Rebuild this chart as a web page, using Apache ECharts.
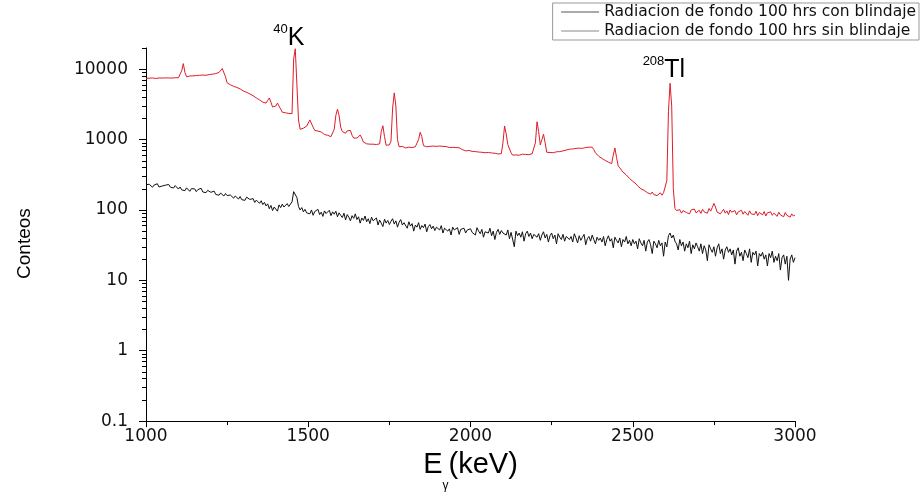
<!DOCTYPE html>
<html><head><meta charset="utf-8">
<script src="https://cdn.jsdelivr.net/npm/echarts@6/dist/echarts.min.js"></script>
<style>html,body{margin:0;padding:0;background:#fff}#c{width:921px;height:497px}</style>
</head><body><div id="c"></div>
<script>
// Energy grid: 1000..3000 keV, 5 keV step
const E_START = 1000;
const E_STEP = 5;

// Counts, shielded ("con blindaje"), one row per 100 keV
const conBlindaje = [
  228,215,232,221,210,226,218,236,212,224,219,207,225,214,230,211,220,205,222,209,
  198,212,193,204,188,206,196,184,201,190,199,182,195,187,203,180,192,176,190,183,
  178,170,185,166,176,162,174,168,158,171,160,150,163,155,147,158,149,143,155,140,
  146,137,152,160,141,133,145,128,138,131,124,135,119,128,114,122,104,116,98,110,
  112,96,118,108,121,110,115,123,112,119,130,182,192,150,112,100,108,94,102,91,
  96,88,100,84,95,90,102,86,93,81,97,89,92,99,83,94,87,96,80,91,
  84,78,90,72,86,79,70,83,76,88,73,80,65,77,71,82,68,75,64,79,
  70,66,77,61,72,68,58,74,65,71,62,69,75,63,70,57,67,73,61,66,
  62,55,68,59,64,50,61,57,66,53,60,56,63,49,58,62,54,59,51,57,
  56,52,60,47,55,58,50,54,44,57,52,49,56,45,53,50,55,47,52,49,
  54,48,51,44,56,50,46,53,41,49,52,47,55,43,50,38,48,53,45,51,
  47,50,44,52,39,48,45,30,50,43,47,41,49,36,46,50,42,47,39,45,
  48,41,46,37,44,49,40,45,35,43,47,39,44,33,46,41,38,45,36,42,
  44,38,42,35,46,40,34,43,37,41,45,32,39,42,36,44,38,33,41,37,
  40,35,42,31,38,43,36,39,29,41,37,34,40,30,38,35,42,33,37,31,
  38,33,36,28,39,34,31,37,26,35,38,32,24,36,33,29,37,31,34,22,
  35,30,43,47,40,44,36,33,27,38,31,35,26,33,29,36,24,32,28,34,
  30,26,33,24,31,27,19,32,28,25,30,22,29,33,24,28,20,27,30,25,
  28,23,27,17,26,29,22,25,19,27,24,21,28,18,25,23,26,16,24,22,
  25,20,23,16,24,21,26,18,22,19,24,14,21,23,17,22,10,20,23,18,
  21
];

// Counts, unshielded ("sin blindaje"), one row per 100 keV
const sinBlindaje = [
  7400,7350,7450,7400,7500,7420,7380,7460,7500,7430,7480,7450,7520,7470,7500,7550,7480,7520,7560,7500,
  7550,7700,9500,12000,9000,7800,7850,8000,7900,8050,8000,8100,8050,8200,8150,8250,8300,8200,8350,8400,
  8450,8500,8600,8650,8800,9000,9500,10200,9800,7800,6400,6200,6000,5850,5700,5600,5500,5400,5250,5100,
  4900,4800,4700,4600,4450,4300,4200,4050,3900,3800,3650,3500,3400,3250,3300,3600,3900,3400,2900,2800,
  3000,3300,3200,2700,2450,2420,2400,2380,2350,2400,2340,14000,19500,6000,1900,1400,1380,1450,1520,1550,
  1650,1900,2000,1500,1350,1340,1320,1300,1280,1220,1180,1160,1150,1120,1100,1120,1400,2200,2700,2200,
  1500,1300,1250,1230,1330,1400,1350,1150,1050,1020,1050,1120,1160,1050,920,890,870,880,860,850,
  860,840,850,830,870,1300,1570,1100,830,820,840,950,2800,4600,3000,1000,790,780,800,770,
  760,770,780,790,770,800,790,820,1000,1270,1100,820,800,790,810,800,830,810,820,800,
  815,810,790,800,780,795,785,770,790,775,780,770,760,765,740,720,700,690,680,700,
  690,680,670,675,660,665,650,660,645,650,640,655,635,645,630,640,635,625,640,630,
  900,1560,1200,850,820,650,600,610,605,615,600,610,620,605,615,620,610,625,630,640,
  900,1790,1300,840,1000,1190,900,660,650,655,660,650,665,670,660,675,680,690,700,710,
  720,730,740,735,745,750,745,755,760,750,765,770,775,780,770,780,720,650,610,580,
  560,540,515,505,480,478,455,455,600,760,560,425,395,385,345,340,315,305,280,275,
  255,240,235,220,218,200,208,190,188,176,185,168,180,165,172,160,170,175,162,176,
  175,260,2500,6300,3000,200,105,98,94,101,90,98,104,92,97,88,100,95,103,91,
  96,99,89,102,94,97,90,105,96,108,124,110,93,99,88,95,102,90,97,86,
  100,93,89,98,85,94,91,99,87,95,90,84,97,88,93,86,96,83,92,89,
  85,95,82,91,87,94,84,90,86,81,93,85,89,80,92,84,88,79,88,82,
  85
];

const seriesNames = ['Radiacion de fondo 100 hrs con blindaje', 'Radiacion de fondo 100 hrs sin blindaje'];
const xTickValues = [1000, 1500, 2000, 2500, 3000];
const yTickLabels = [0.1, 1, 10, 100, 1000, 10000];
const peakLabels = [
  { sup: '40', name: 'K', energy: 1440, counts: 20000 },
  { sup: '208', name: 'Tl', energy: 2596, counts: 7100 }
];

const Y_MIN = 0.1, Y_MAX = 20000;
const yMinorTicks = [];
for (let d = 0.1; d < 10000; d *= 10) {
  for (let k = 2; k <= 9; k++) yMinorTicks.push(+(d * k).toPrecision(3));
}
yMinorTicks.push(20000);

const toPairs = arr => arr.map((v, i) => [E_START + i * E_STEP, v]);

const chart = echarts.init(document.getElementById('c'), null, { renderer: 'canvas' });
const FONT = 'Liberation Sans';
const TICKFONT = 'DejaVu Sans';

chart.setOption({
  animation: false,
  backgroundColor: '#ffffff',
  textStyle: { fontFamily: FONT },
  grid: { left: 146, right: 126, top: 48, bottom: 70 },
  legend: {
    orient: 'vertical',
    right: 2, top: 3,
    padding: [1, 3, 1, 8],
    itemGap: 3,
    itemWidth: 38, itemHeight: 14,
    borderColor: '#999', borderWidth: 1,
    textStyle: { fontFamily: TICKFONT, fontSize: 15.5, color: '#111' },
    data: [
      { name: seriesNames[0], lineStyle: { color: '#555', width: 1 }, itemStyle: { opacity: 0 } },
      { name: seriesNames[1], lineStyle: { color: '#888', width: 1 }, itemStyle: { opacity: 0 } }
    ]
  },
  xAxis: {
    type: 'value', min: 1000, max: 3000, interval: 500,
    name: '{e|E}{g|γ}{k|(keV)}',
    nameLocation: 'middle', nameGap: 26,
    nameTextStyle: {
      rich: {
        e: { fontFamily: FONT, fontSize: 29, lineHeight: 42, verticalAlign: 'top', color: '#000' },
        g: { fontFamily: FONT, fontSize: 12, lineHeight: 14, verticalAlign: 'bottom', color: '#000' },
        k: { fontFamily: FONT, fontSize: 29, lineHeight: 42, verticalAlign: 'top', color: '#000' }
      }
    },
    axisLine: { lineStyle: { color: '#000', width: 1 } },
    axisTick: { length: 6, lineStyle: { color: '#000' }, customValues: xTickValues },
    minorTick: { show: true, splitNumber: 2, length: 4, lineStyle: { color: '#000' } },
    axisLabel: { fontFamily: TICKFONT, fontSize: 17, color: '#111', margin: 7, customValues: xTickValues,
      formatter: v => String(v) },
    splitLine: { show: false }
  },
  yAxis: [
    {
      type: 'log', logBase: 10, min: Y_MIN, max: Y_MAX,
      name: 'Conteos', nameLocation: 'middle', nameGap: 112, nameRotate: 90,
      nameTextStyle: { fontFamily: FONT, fontSize: 19, color: '#000', padding: [0, 18, 0, 0] },
      axisLine: { show: true, lineStyle: { color: '#000', width: 1 } },
      axisTick: { length: 7, lineStyle: { color: '#000' }, customValues: yTickLabels },
      axisLabel: { fontFamily: TICKFONT, fontSize: 17, color: '#111', margin: 18, customValues: yTickLabels,
        formatter: v => String(v) },
      splitLine: { show: false },
      minorTick: { show: false }
    },
    {
      type: 'log', logBase: 10, min: Y_MIN, max: Y_MAX, position: 'left',
      axisLine: { show: false },
      axisTick: { show: true, length: 4, lineStyle: { color: '#000' }, customValues: yMinorTicks },
      axisLabel: { show: false },
      splitLine: { show: false }
    }
  ],
  series: [
    {
      name: seriesNames[0], type: 'line', data: toPairs(conBlindaje),
      symbol: 'none', lineStyle: { color: '#111', width: 1 }, itemStyle: { color: '#111' },
      z: 3
    },
    {
      name: seriesNames[1], type: 'line', data: toPairs(sinBlindaje),
      symbol: 'none', lineStyle: { color: '#dd1c2a', width: 1 }, itemStyle: { color: '#dd1c2a' },
      z: 2,
      markPoint: {
        symbol: 'circle', symbolSize: 0, silent: true,
        data: peakLabels.map(p => ({
          coord: [p.energy, p.counts],
          label: {
            show: true, position: 'top', distance: 0, offset: [0, 3],
            formatter: '{s|' + p.sup + '}{b|' + p.name + '}',
            rich: {
              s: { fontFamily: FONT, fontSize: 13, lineHeight: 14, verticalAlign: 'top', color: '#000' },
              b: { fontFamily: FONT, fontSize: 25, lineHeight: 28, verticalAlign: 'bottom', color: '#000' }
            }
          }
        }))
      }
    }
  ]
});
</script>
</body></html>
